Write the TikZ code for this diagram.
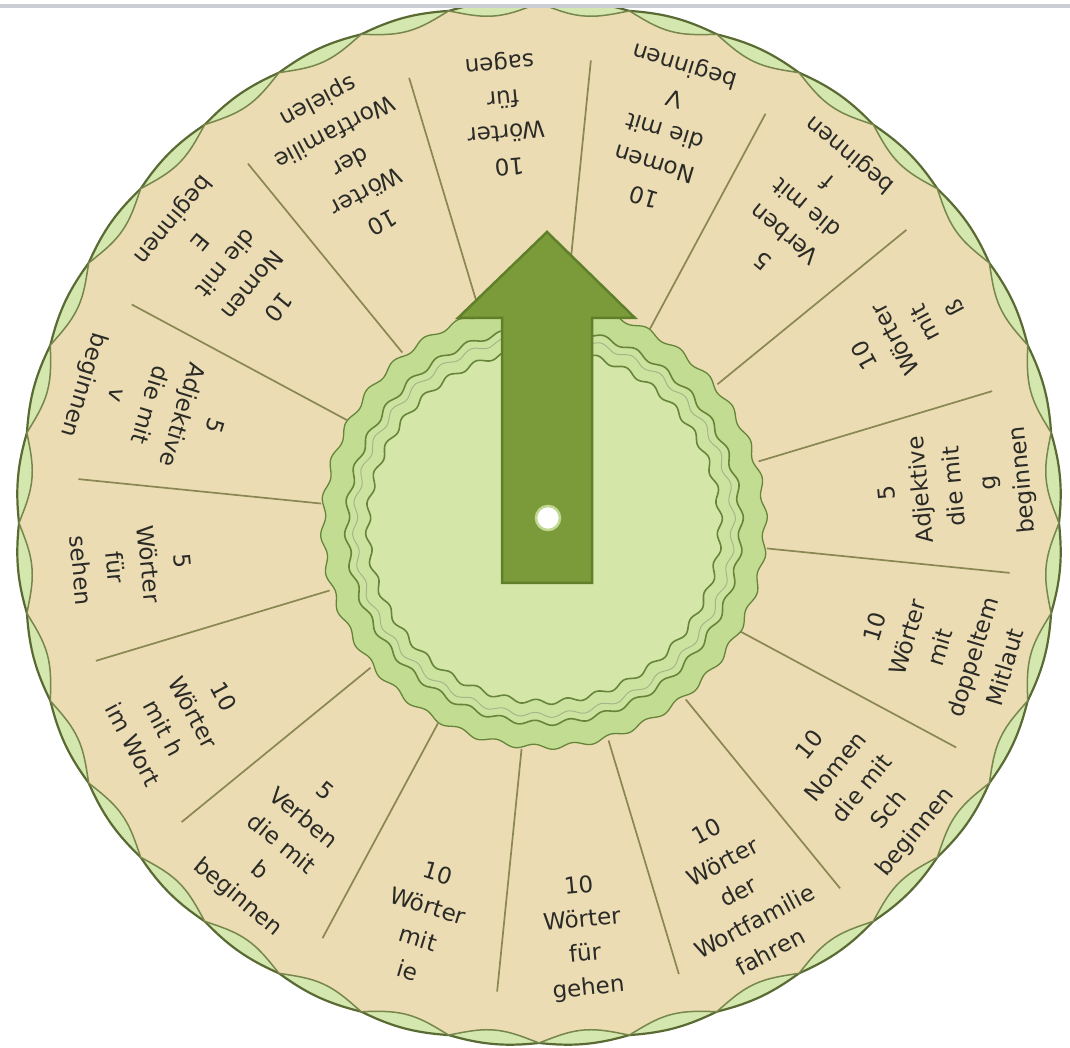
\documentclass[tikz,border=0pt]{standalone}
\usepackage{fontspec}
\setmainfont{DejaVu Sans}
\definecolor{wbeige}{HTML}{EBDCB4}
\definecolor{wband}{HTML}{D3E7AE}
\definecolor{wrim}{HTML}{5A6A33}
\definecolor{wrimin}{HTML}{77864A}
\definecolor{wdiv}{HTML}{8A8753}
\definecolor{hubA}{HTML}{C2DC92}
\definecolor{hubB}{HTML}{CCE3A0}
\definecolor{hubC}{HTML}{D4E7A8}
\definecolor{hubline}{HTML}{67853A}
\definecolor{arrowfill}{HTML}{7B9B3A}
\definecolor{arrowline}{HTML}{5F7F2A}
\definecolor{txt}{HTML}{2A2A26}
\definecolor{topbar}{HTML}{CBCFD5}
\tikzset{
  seg/.style={font=\fontsize{23}{34}\selectfont, text=txt, align=center, inner sep=0pt},
  divider/.style={draw=wdiv, line width=1.7pt},
  wavy/.style={domain=0:360, samples=721, variable=\t},
}
\begin{document}
\begin{tikzpicture}[x=1pt,y=1pt]
\useasboundingbox (0,0) rectangle (1070,1048);
\fill[white] (0,0) rectangle (1070,1048);
% outer wheel
\begin{scope}[shift={(539,525)}]
  \filldraw[fill=wband, draw=wrim, line width=2.2pt] plot[wavy] (\t:{520+3*abs(sin(18*\t))}) -- cycle;
  \filldraw[fill=wbeige, draw=wrimin, line width=1.5pt] plot[wavy] (\t:{520-11*abs(sin(18*\t))}) -- cycle;
\end{scope}
\begin{scope}[shift={(544,522)}]
  % dividers
  \foreach \a in {0,...,15}
    \draw[divider] ({84.25-22.5*\a}:224) -- ({84.25-22.5*\a}:468);
  % labels
  \node[seg, rotate=185.5] (s0)  at (95.5:414)  {10\\Wörter\\für\\sagen};
  \node[seg, rotate=163]   (s1)  at (73:414)    {10\\Nomen\\die mit\\V\\beginnen};
  \node[seg, rotate=140.5] (s2)  at (50.5:414)  {5\\Verben\\die mit\\f\\beginnen};
  \node[seg, rotate=118]   (s3)  at (28:414)    {10\\Wörter\\mit\\ß};
  \node[seg, rotate=95.5]  (s4)  at (5.5:414)   {5\\Adjektive\\die mit\\g\\beginnen};
  \node[seg, rotate=73]    (s5)  at (-17:414)   {10\\Wörter\\mit\\doppeltem\\Mitlaut};
  \node[seg, rotate=50.5]  (s6)  at (-39.5:414) {10\\Nomen\\die mit\\Sch\\beginnen};
  \node[seg, rotate=28]    (s7)  at (-62:414)   {10\\Wörter\\der\\Wortfamilie\\fahren};
  \node[seg, rotate=5.5]   (s8)  at (-84.5:414) {10\\Wörter\\für\\gehen};
  \node[seg, rotate=-17]   (s9)  at (-107:414)  {10\\Wörter\\mit\\ie};
  \node[seg, rotate=-39.5] (s10) at (-129.5:414){5\\Verben\\die mit\\b\\beginnen};
  \node[seg, rotate=-62]   (s11) at (-152:414)  {10\\Wörter\\mit h\\im Wort};
  \node[seg, rotate=-84.5] (s12) at (-174.5:414){5\\Wörter\\für\\sehen};
  \node[seg, rotate=253]   (s13) at (163:414)   {5\\Adjektive\\die mit\\v\\beginnen};
  \node[seg, rotate=230.5] (s14) at (140.5:414) {10\\Nomen\\die mit\\E\\beginnen};
  \node[seg, rotate=208]   (s15) at (118:414)   {10\\Wörter\\der\\Wortfamilie\\spielen};
  % hub
  \filldraw[fill=hubA, draw=hubline, line width=1.3pt] plot[wavy] (\t:{221+2.5*sin(36*\t)}) -- cycle;
  \filldraw[fill=hubB, draw=hubline, line width=1.6pt] plot[wavy] (\t:{197+2.5*sin(36*\t)}) -- cycle;
  \draw[hubline!60, line width=1pt] plot[wavy] (\t:{189+2.5*sin(36*\t)}) -- cycle;
  \filldraw[fill=hubC, draw=hubline, line width=1.6pt] plot[wavy] (\t:{176+2.5*sin(36*\t)}) -- cycle;
\end{scope}
% arrow
\filldraw[fill=arrowfill, draw=arrowline, line width=2.5pt, line join=miter]
  (502,465) -- (502,730) -- (458,730) -- (547,816) -- (635,730) -- (592,730) -- (592,465) -- cycle;
\node[circle, fill=white, draw=hubC!80!arrowfill, line width=2.5pt, minimum size=24pt, inner sep=0pt] (pivot) at (548,530) {};
% top bar
\fill[white] (0,1043) rectangle (1070,1048);
\fill[topbar] (0,1040) rectangle (1070,1043.5);
\end{tikzpicture}
\end{document}
